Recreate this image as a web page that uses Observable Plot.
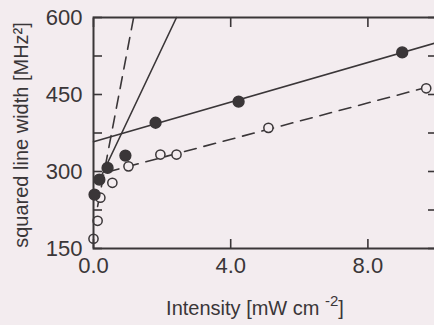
<!DOCTYPE html>
<html>
<head>
<meta charset="utf-8">
<script src="https://cdn.jsdelivr.net/npm/d3@7"></script>
<script src="https://cdn.jsdelivr.net/npm/@observablehq/plot@0.6"></script>
<style>
  html, body { margin: 0; padding: 0; background: #f3ecef; }
  #chart svg { display: block; }
</style>
</head>
<body>
<div id="chart"></div>
<script>
// ---- data ----
const filledIntensity = [0.03, 0.17, 0.41, 0.93, 1.81, 4.23, 9.0];
const filledWidth     = [255, 284, 307, 331, 395, 436, 532];
const openIntensity   = [0.0, 0.12, 0.2, 0.55, 1.02, 1.95, 2.42, 5.1, 9.7];
const openWidth       = [169, 204, 249, 278, 310, 333, 333, 385, 462];

// fitted lines (end points)
const fitSolidHighX  = [0, 10];
const fitSolidHighY  = [358, 551];
const fitDashedHighX = [0.4, 10];
const fitDashedHighY = [299, 469];
const fitSolidLowX   = [0.15, 2.42];
const fitSolidLowY   = [280, 600];
const fitDashedLowX  = [0.12, 1.17];
const fitDashedLowY  = [232, 600];

const xTicks = [0, 4, 8];
const xTickLabels = ["0.0", "4.0", "8.0"];
const yTicks = [150, 225, 300, 375, 450, 525, 600];
const yTickLabels = ["150", "", "300", "", "450", "", "600"];

const yTitle = "squared line width [MHz²]";
const xTitle = "Intensity [mW cm-2]";

// ---- build ----
const ink = "#3a3638";
const bg = "#f3ecef";
const zip = (xs, ys) => xs.map((x, i) => ({x, y: ys[i]}));
const filled = zip(filledIntensity, filledWidth);
const open = zip(openIntensity, openWidth);

const chart = Plot.plot({
  width: 434,
  height: 325,
  marginLeft: 93,
  marginRight: -2,
  marginTop: 17,
  marginBottom: 77,
  style: {background: bg, color: ink, fontFamily: "'Liberation Sans', Arial, sans-serif"},
  x: {domain: [0, 10], label: null},
  y: {domain: [150, 600], label: null},
  marks: [
    Plot.line(zip(fitSolidHighX, fitSolidHighY), {x: "x", y: "y", stroke: ink, strokeWidth: 1.6}),
    Plot.line(zip(fitDashedHighX, fitDashedHighY), {x: "x", y: "y", stroke: ink, strokeWidth: 1.6, strokeDasharray: "12,8"}),
    Plot.line(zip(fitSolidLowX, fitSolidLowY), {x: "x", y: "y", stroke: ink, strokeWidth: 1.6}),
    Plot.line(zip(fitDashedLowX, fitDashedLowY), {x: "x", y: "y", stroke: ink, strokeWidth: 1.6, strokeDasharray: "12,8"}),
    Plot.dot(open, {x: "x", y: "y", r: 4.6, fill: bg, stroke: ink, strokeWidth: 1.5}),
    Plot.dot(filled, {x: "x", y: "y", r: 5.4, fill: ink, stroke: ink}),
    Plot.frame({stroke: ink, strokeWidth: 2}),
    Plot.axisY({anchor: "left", ticks: yTicks, tickSize: -9, tickPadding: 20, strokeWidth: 1.6,
      tickFormat: d => yTickLabels[yTicks.indexOf(d)], fontSize: 22, label: null}),
    Plot.axisY({anchor: "right", ticks: yTicks, tickSize: -9, strokeWidth: 1.6, tickFormat: () => "", label: null}),
    Plot.axisX({anchor: "bottom", ticks: xTicks, tickSize: -9, tickPadding: 18, strokeWidth: 1.6,
      tickFormat: d => xTickLabels[xTicks.indexOf(d)], fontSize: 22, label: null}),
    Plot.axisX({anchor: "top", ticks: xTicks, tickSize: -9, strokeWidth: 1.6, tickFormat: () => "", label: null}),
    Plot.text([yTitle], {frameAnchor: "left", dx: -72, dy: 2, rotate: -90, fontSize: 20, textAnchor: "middle", lineAnchor: "middle", fill: ink}),
    Plot.text([xTitle], {frameAnchor: "bottom", dx: -10, dy: 60, fontSize: 20, textAnchor: "middle", lineAnchor: "middle", fill: ink})
  ]
});
document.getElementById("chart").appendChild(chart);

// superscript in the x title
d3.select(chart).selectAll("text").filter(function () { return this.textContent === xTitle; })
  .each(function () {
    const t = d3.select(this);
    t.text(null);
    t.append("tspan").text("Intensity [mW cm ");
    t.append("tspan").attr("dy", -9).attr("font-size", 15).text("-2");
    t.append("tspan").attr("dy", 9).text("]");
  });
</script>
</body>
</html>
